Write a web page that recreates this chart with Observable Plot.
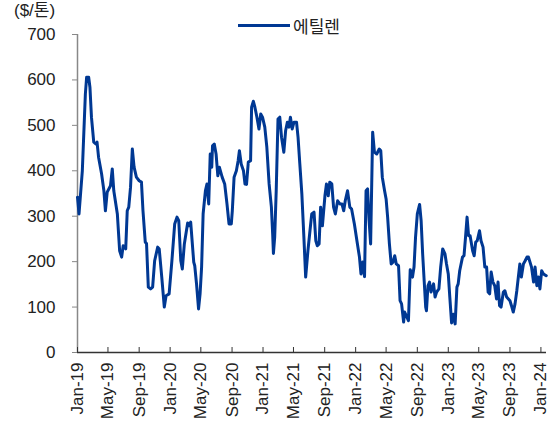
<!DOCTYPE html>
<html><head><meta charset="utf-8">
<script src="https://cdn.jsdelivr.net/npm/d3@7"></script>
<script src="https://cdn.jsdelivr.net/npm/@observablehq/plot@0.6"></script>
<style>
body{margin:0;background:#fff;}
#wrap{position:relative;width:557px;height:432px;}
.unit{position:absolute;left:14px;top:1px;font-size:17px;line-height:20px;color:#222;font-family:"Liberation Sans","Noto Sans CJK KR",sans-serif;white-space:nowrap}
.legend{position:absolute;left:238px;top:15px;height:21px;display:flex;align-items:center;font-size:17px;font-family:"Noto Sans CJK KR",sans-serif;color:#222;white-space:nowrap}
.swatch{width:52px;height:3px;background:#003893;margin-right:3px}
#chart{position:absolute;left:0;top:0}
</style></head>
<body>
<div id="wrap">
  <div id="chart"></div>
  <div class="unit">($/톤)</div>
  <div class="legend"><span class="swatch"></span><span>에틸렌</span></div>
</div>
<script>
const dates = [
"2019-01-01","2019-01-07","2019-01-20","2019-02-01","2019-02-06","2019-02-14","2019-02-19","2019-02-25",
"2019-03-06","2019-03-15","2019-03-19","2019-03-25","2019-04-06","2019-04-15","2019-04-21","2019-04-28",
"2019-05-11","2019-05-18","2019-05-24","2019-06-07","2019-06-16","2019-06-24","2019-06-30","2019-07-10",
"2019-07-16","2019-07-22","2019-07-29","2019-08-05","2019-08-12","2019-08-21","2019-09-01","2019-09-10",
"2019-09-16","2019-09-25","2019-09-30","2019-10-07","2019-10-16","2019-10-24","2019-11-01","2019-11-13",
"2019-11-19","2019-11-29","2019-12-09","2019-12-16","2019-12-28",
"2020-01-08","2020-01-19","2020-01-28","2020-02-04","2020-02-12","2020-02-18","2020-02-26","2020-03-10",
"2020-03-16","2020-03-22","2020-04-03","2020-04-07","2020-04-14","2020-04-22","2020-04-28","2020-05-04",
"2020-05-10","2020-05-19","2020-05-25","2020-06-01","2020-06-07","2020-06-13","2020-06-16","2020-06-23",
"2020-06-30","2020-07-07","2020-07-13","2020-07-24","2020-08-03","2020-08-12","2020-08-20","2020-08-29",
"2020-09-02","2020-09-09","2020-09-18","2020-09-25","2020-09-30","2020-10-07","2020-10-16","2020-10-22",
"2020-10-28","2020-11-04","2020-11-13","2020-11-17","2020-11-24","2020-11-30","2020-12-08","2020-12-16",
"2020-12-23","2020-12-30",
"2021-01-08","2021-01-16","2021-01-25","2021-02-03","2021-02-08","2021-02-11","2021-02-16","2021-02-22",
"2021-03-01","2021-03-08","2021-03-15","2021-03-24","2021-03-31","2021-04-07","2021-04-13","2021-04-19",
"2021-04-26","2021-05-03","2021-05-13","2021-05-19","2021-05-26","2021-06-03","2021-06-11","2021-06-18",
"2021-06-27","2021-07-05","2021-07-12","2021-07-21","2021-07-28","2021-08-03","2021-08-10","2021-08-16",
"2021-08-23","2021-09-02","2021-09-08","2021-09-15","2021-09-21","2021-09-29","2021-10-06","2021-10-13",
"2021-10-22","2021-10-31","2021-11-08","2021-11-15","2021-11-21","2021-11-30","2021-12-09","2021-12-16",
"2021-12-27",
"2022-01-06","2022-01-16","2022-01-22","2022-01-29","2022-02-05","2022-02-11","2022-02-17","2022-02-23",
"2022-03-01","2022-03-09","2022-03-16","2022-03-25","2022-04-04","2022-04-10","2022-04-16","2022-04-25",
"2022-05-01","2022-05-07","2022-05-14","2022-05-21","2022-05-28","2022-06-04","2022-06-10","2022-06-19",
"2022-06-25","2022-07-01","2022-07-09","2022-07-13","2022-07-22","2022-07-28","2022-08-04","2022-08-13",
"2022-08-19","2022-08-25","2022-09-01","2022-09-10","2022-09-16","2022-09-22","2022-09-28","2022-10-04",
"2022-10-07","2022-10-13","2022-10-19","2022-10-25","2022-11-04","2022-11-10","2022-11-16","2022-11-25",
"2022-12-02","2022-12-10","2022-12-19","2022-12-25",
"2023-01-01","2023-01-07","2023-01-14","2023-01-21","2023-01-28","2023-02-04","2023-02-09","2023-02-15",
"2023-02-26","2023-03-04","2023-03-10","2023-03-16","2023-03-22","2023-03-28","2023-04-07","2023-04-13",
"2023-04-19","2023-04-25","2023-05-04","2023-05-10","2023-05-18","2023-05-25","2023-06-01","2023-06-07",
"2023-06-13","2023-06-19","2023-06-26","2023-07-03","2023-07-10","2023-07-16","2023-07-22","2023-07-28",
"2023-08-06","2023-08-12","2023-08-19","2023-09-01","2023-09-07","2023-09-14","2023-09-21","2023-09-28",
"2023-10-04","2023-10-10","2023-10-16","2023-10-24","2023-10-31","2023-11-07","2023-11-13","2023-11-19",
"2023-11-25","2023-12-03","2023-12-09","2023-12-16","2023-12-22","2023-12-28",
"2024-01-04","2024-01-11","2024-01-22"
];
const ethylene = [
342,305,400,569,606,606,584,518,
463,459,463,430,393,356,312,353,
367,404,356,305,224,210,235,228,
312,320,364,448,408,386,378,375,
312,243,240,144,140,144,202,232,
228,166,100,125,129,
202,283,298,290,202,184,239,285,
279,287,199,191,151,96,129,188,
305,356,371,327,437,408,455,459,
437,389,408,386,371,327,283,283,
312,386,400,422,444,415,400,371,
370,419,422,540,553,540,518,492,
525,518,
496,452,371,320,261,218,254,356,
514,518,474,441,488,507,496,518,
492,507,507,474,415,349,254,166,
224,268,305,309,246,235,239,320,
279,345,371,345,375,371,320,305,
334,327,327,312,334,356,320,316,
283,
246,210,173,199,167,356,360,290,
239,485,441,437,448,444,386,356,
338,298,239,195,199,213,195,191,
114,107,67,89,78,70,182,166,
188,254,305,326,290,217,158,100,
92,147,155,133,151,122,133,140,
188,228,217,195,
173,122,65,84,63,144,151,180,
210,213,254,298,257,257,224,213,
243,246,268,246,232,188,188,133,
129,177,155,147,118,155,103,100,
133,136,122,114,103,89,107,136,
166,195,166,195,202,210,210,199,
188,155,188,147,166,140,
180,173,169
];
const tickDates = ["2019-01-01","2019-05-01","2019-09-01","2020-01-01","2020-05-01","2020-09-01",
"2021-01-01","2021-05-01","2021-09-01","2022-01-01","2022-05-01","2022-09-01",
"2023-01-01","2023-05-01","2023-09-01","2024-01-01"];
const yTicks = [0,100,200,300,400,500,600,700];
const xDomain = ["2019-01-01","2024-01-23"];

const data = dates.map((d,i)=>({date:new Date(d), value:ethylene[i]}));
const ticks = tickDates.map(d=>new Date(d));
const fmt = d3.utcFormat("%b-%y");

const chart = Plot.plot({
  width:557, height:432,
  marginLeft:77, marginRight:11, marginTop:34, marginBottom:80,
  style:{fontFamily:"Liberation Sans, Arial, sans-serif", fontSize:"17px", color:"#222", background:"transparent", overflow:"visible"},
  x:{type:"utc", domain:xDomain.map(d=>new Date(d))},
  y:{domain:[0,700]},
  marks:[
    Plot.ruleX([new Date(xDomain[0])], {y1:0, y2:700, stroke:"#888", strokeWidth:1.5}),
    Plot.ruleY([0], {stroke:"#333", strokeWidth:1.3}),
    Plot.axisY({ticks:yTicks, tickSize:5, tickPadding:17, stroke:"#888", fill:"#222", label:null}),
    Plot.axisX({ticks, tickSize:-5, text:null, stroke:"#333", label:null}),
    Plot.axisX({ticks, tickSize:0, tickPadding:10, tickRotate:-90, tickFormat:fmt, fill:"#222", label:null}),
    Plot.line(data, {x:"date", y:"value", stroke:"#003893", strokeWidth:3})
  ]
});
document.getElementById("chart").appendChild(chart);
</script>
</body></html>
